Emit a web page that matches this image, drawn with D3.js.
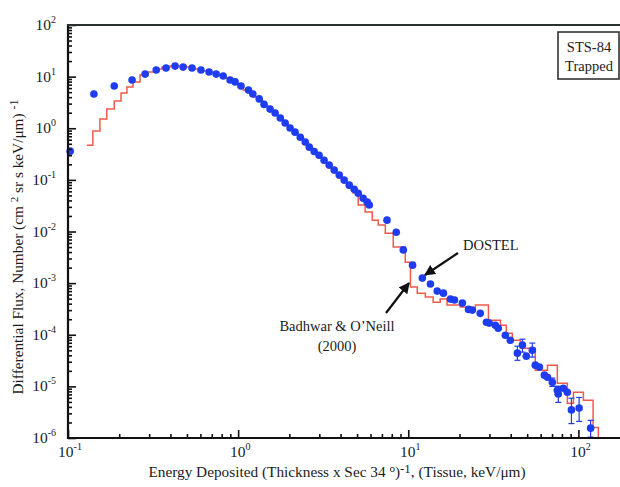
<!DOCTYPE html>
<html>
<head>
<meta charset="utf-8">
<script src="https://cdn.jsdelivr.net/npm/d3@7"></script>
<style>
  body { margin: 0; background: #fff; }
  text { font-family: 'Liberation Serif', 'Times New Roman', serif; fill: #1c1c1c; }
</style>
</head>
<body>
<script>
const width = 620;
const height = 487;

// DOSTEL measured points (energy keV/um, flux)
const dostelE = [0.103, 0.142, 0.187, 0.238, 0.284, 0.330, 0.377, 0.426, 0.475, 0.536,
  0.605, 0.675, 0.743, 0.817, 0.897, 0.960, 1.04, 1.15, 1.22, 1.33,
  1.42, 1.54, 1.65, 1.77, 1.89, 2.02, 2.16, 2.32, 2.48, 2.62,
  2.80, 2.99, 3.2, 3.43, 3.67, 3.93, 4.2, 4.5, 4.81, 5.08,
  5.43, 5.74, 5.9, 7.5, 8.5, 9.35, 10.6, 12.1, 13.5, 14.8,
  16.1, 17.7, 18.7, 20.8, 22.6, 23.8, 26.5, 28.8, 29.9, 32.5,
  33.8, 37.2, 39.8, 43.8, 46.9, 49.4, 53.6, 55.8, 59, 63.1,
  65.8, 70.3, 75.2, 76.2, 81.6, 86.1, 91, 101, 118];
const dostelF = [0.36, 4.6, 6.6, 8.6, 11.2, 13.4, 14.7, 16.0, 15.3, 14.7,
  13.4, 12.3, 11.2, 10.3, 8.6, 7.9, 6.6, 5.5, 4.6, 3.7,
  2.9, 2.35, 1.97, 1.58, 1.26, 1.01, 0.84, 0.67, 0.54, 0.43,
  0.355, 0.30, 0.24, 0.194, 0.155, 0.124, 0.099, 0.079, 0.066, 0.055,
  0.044, 0.037, 0.0325, 0.0166, 0.0097, 0.0044, 0.00223, 0.00125, 0.00096, 0.0007,
  0.00064, 0.00049, 0.00047, 0.00041, 0.00031, 0.0003, 0.00026, 0.000175, 0.000168, 0.000153,
  0.000134, 0.000098, 0.0000785, 0.000044, 0.000063, 0.0000385, 0.00005, 0.0000258, 0.0000236, 0.0000165,
  0.000015, 0.000012, 0.0000084, 0.0000071, 0.0000092, 0.0000077, 0.0000035, 0.0000038, 0.00000155];
// error bars: energy, low, high
const dostelErrE  = [43.8, 46.9, 53.6, 70.3, 75.2, 76.2, 91, 101, 118];
const dostelErrLo = [3.2e-5, 4.6e-5, 3.7e-5, 1.0e-5, 7.0e-6, 4.9e-6, 1.9e-6, 2.1e-6, 1.04e-6];
const dostelErrHi = [6.0e-5, 8.2e-5, 6.9e-5, 1.45e-5, 1.0e-5, 1.0e-5, 5.9e-6, 6.1e-6, 2.2e-6];

// Badhwar & O'Neill (2000) model histogram: bin left edges and levels
const modelEdges = [0.129, 0.140, 0.154, 0.169, 0.187, 0.205, 0.222, 0.241, 0.265, 0.296,
  0.325, 0.357, 0.398, 0.444, 0.494, 0.551, 0.614, 0.675, 0.743, 0.805,
  0.873, 0.935, 1.0, 1.07, 1.145, 1.225, 1.31, 1.40, 1.50, 1.61,
  1.72, 1.84, 1.97, 2.11, 2.25, 2.41, 2.58, 2.76, 2.96, 3.16,
  3.38, 3.62, 3.87, 4.15, 4.44, 4.74, 5.08, 5.58, 6.14, 6.66,
  7.33, 8.16, 9.6, 10.3, 11.3, 12.6, 14.0, 15.4, 16.9, 20.2,
  22.5, 24.8, 29.6, 34.8, 37.7, 40.9, 45.6, 55.8, 65.8, 75.2,
  86.1, 93.5, 107, 122, 131];
const modelF = [0.47, 0.88, 1.51, 2.35, 3.37, 4.81, 6.28, 7.85, 10.7, 12.3,
  14.0, 15.3, 16.0, 16.0, 15.3, 14.0, 12.8, 11.7, 10.7, 9.4,
  8.2, 7.2, 6.28, 5.5, 4.81, 4.03, 3.37, 2.69, 2.15, 1.80,
  1.44, 1.15, 0.92, 0.77, 0.62, 0.49, 0.395, 0.33, 0.264, 0.212,
  0.169, 0.136, 0.108, 0.0867, 0.0693, 0.0555, 0.0325, 0.0238, 0.0166, 0.0133,
  0.0093, 0.0050, 0.00255, 0.00084, 0.00064, 0.000536, 0.000428, 0.00049, 0.000375, 0.000343,
  0.0003, 0.000375, 0.000192, 0.000153, 0.000107, 0.0000785, 0.000055, 0.0000206, 0.0000258, 0.0000115,
  0.0000047, 0.0000077, 0.0000054, 0.0000016, 0.000001];

const xMajor = [0.1, 1, 10, 100];
const xMajorExp = ['-1', '0', '1', '2'];
const yMajor = [1e-6, 1e-5, 1e-4, 1e-3, 1e-2, 1e-1, 1, 10, 100];
const yMajorExp = ['-6', '-5', '-4', '-3', '-2', '-1', '0', '1', '2'];

const blue = '#1e3cf0';
const red = '#f2594b';

const svg = d3.select('body').append('svg')
  .attr('width', width)
  .attr('height', height);

const x = d3.scaleLog().domain([0.1, 178]).range([68, 621]);
const y = d3.scaleLog().domain([1e-6, 100]).range([438, 25]);

const isMajor = v => Math.abs(Math.log10(v) - Math.round(Math.log10(v))) < 1e-6;

// model histogram
const modelPts = modelEdges.map((e, i) => [e, modelF[i]]);
svg.append('path')
  .datum(modelPts)
  .attr('fill', 'none')
  .attr('stroke', red)
  .attr('stroke-width', 1.5)
  .attr('d', d3.line()
    .x(d => x(d[0]))
    .y(d => y(d[1]))
    .curve(d3.curveStepAfter));

// error bars
const errs = svg.append('g').attr('stroke', blue).attr('stroke-width', 1.2);
dostelErrE.forEach((e, i) => {
  errs.append('line')
    .attr('x1', x(e)).attr('x2', x(e))
    .attr('y1', y(dostelErrLo[i])).attr('y2', y(dostelErrHi[i]));
  [dostelErrLo[i], dostelErrHi[i]].forEach(v => {
    errs.append('line')
      .attr('x1', x(e) - 3).attr('x2', x(e) + 3)
      .attr('y1', y(v)).attr('y2', y(v));
  });
});

// DOSTEL points
svg.append('g')
  .selectAll('circle')
  .data(dostelE.map((e, i) => [e, dostelF[i]]))
  .enter().append('circle')
    .attr('cx', d => x(d[0]))
    .attr('cy', d => y(d[1]))
    .attr('r', 3.8)
    .attr('fill', blue);

// axes with inside ticks
const yAxis = svg.append('g')
  .attr('transform', 'translate(68,0)')
  .call(d3.axisLeft(y).tickValues(y.ticks()).tickSize(-4).tickFormat(''));
const xAxis = svg.append('g')
  .attr('transform', 'translate(0,438)')
  .call(d3.axisBottom(x).tickValues(x.ticks().filter(v => v <= 178)).tickSize(-4).tickFormat(''));

[yAxis, xAxis].forEach(ax => {
  ax.select('.domain').remove();
  ax.selectAll('.tick line').attr('stroke', '#111').attr('stroke-width', 1.6);
});
yAxis.selectAll('.tick').filter(d => isMajor(d)).select('line').attr('x2', 8);
xAxis.selectAll('.tick').filter(d => isMajor(d)).select('line').attr('y2', -8);

// frame lines
svg.append('line').attr('x1', 68).attr('x2', 68).attr('y1', 24).attr('y2', 439)
  .attr('stroke', '#111').attr('stroke-width', 2.2);
svg.append('line').attr('x1', 67).attr('x2', 620).attr('y1', 438).attr('y2', 438)
  .attr('stroke', '#111').attr('stroke-width', 2.2);
svg.append('line').attr('x1', 67).attr('x2', 620).attr('y1', 25).attr('y2', 25)
  .attr('stroke', '#2a302e').attr('stroke-width', 2.2);

// tick labels
yMajor.forEach((v, i) => {
  const t = svg.append('text')
    .attr('x', 56)
    .attr('y', y(v) + 5)
    .attr('text-anchor', 'end')
    .attr('font-size', 15.5);
  t.append('tspan').text('10');
  t.append('tspan').attr('dy', -7).attr('font-size', 10).text(yMajorExp[i]);
});
xMajor.forEach((v, i) => {
  const t = svg.append('text')
    .attr('x', x(v) + 2)
    .attr('y', 457)
    .attr('text-anchor', 'middle')
    .attr('font-size', 15.5);
  t.append('tspan').text('10');
  t.append('tspan').attr('dy', -7).attr('font-size', 10).text(xMajorExp[i]);
});

// axis titles
const yt = svg.append('text')
  .attr('transform', 'translate(23,247) rotate(-90)')
  .attr('text-anchor', 'middle')
  .attr('font-size', 15.3);
yt.append('tspan').text('Differential Flux, Number (cm ');
yt.append('tspan').attr('dy', -5).attr('font-size', 11).text('2');
yt.append('tspan').attr('dy', 5).text(' sr s keV/\u03bcm) ');
yt.append('tspan').attr('dy', -5).attr('font-size', 12).text('-1');

const xt = svg.append('text')
  .attr('x', 337)
  .attr('y', 477)
  .attr('text-anchor', 'middle')
  .attr('font-size', 15.3);
xt.append('tspan').text('Energy Deposited (Thickness x Sec 34 ');
xt.append('tspan').attr('dy', -5).attr('font-size', 11).text('o');
xt.append('tspan').attr('dy', 5).text(')');
xt.append('tspan').attr('dy', -4).attr('font-size', 13).text('-1');
xt.append('tspan').attr('dy', 4).text(', (Tissue, keV/\u03bcm)');

// label box
svg.append('rect')
  .attr('x', 558).attr('y', 32).attr('width', 61).attr('height', 47)
  .attr('fill', '#fff').attr('stroke', '#333').attr('stroke-width', 1.6);
svg.append('text').attr('x', 589).attr('y', 52).attr('text-anchor', 'middle')
  .attr('font-size', 14.5).text('STS-84');
svg.append('text').attr('x', 589).attr('y', 71).attr('text-anchor', 'middle')
  .attr('font-size', 14.5).text('Trapped');

// annotations
svg.append('defs').append('marker')
  .attr('id', 'arr')
  .attr('viewBox', '0 0 10 10')
  .attr('refX', 9).attr('refY', 5)
  .attr('markerWidth', 5).attr('markerHeight', 5)
  .attr('orient', 'auto')
  .append('path').attr('d', 'M0,0 L10,5 L0,10 Z').attr('fill', '#111');

svg.append('line')
  .attr('x1', 458).attr('y1', 253).attr('x2', 425).attr('y2', 275)
  .attr('stroke', '#111').attr('stroke-width', 2.2).attr('marker-end', 'url(#arr)');
svg.append('text').attr('x', 463).attr('y', 250).attr('font-size', 14.5).text('DOSTEL');

svg.append('line')
  .attr('x1', 386).attr('y1', 313).attr('x2', 409).attr('y2', 283)
  .attr('stroke', '#111').attr('stroke-width', 2.2).attr('marker-end', 'url(#arr)');
svg.append('text').attr('x', 337).attr('y', 331).attr('text-anchor', 'middle')
  .attr('font-size', 14.5).text('Badhwar & O\u2019Neill');
svg.append('text').attr('x', 337).attr('y', 351).attr('text-anchor', 'middle')
  .attr('font-size', 14.5).text('(2000)');
</script>
</body>
</html>
